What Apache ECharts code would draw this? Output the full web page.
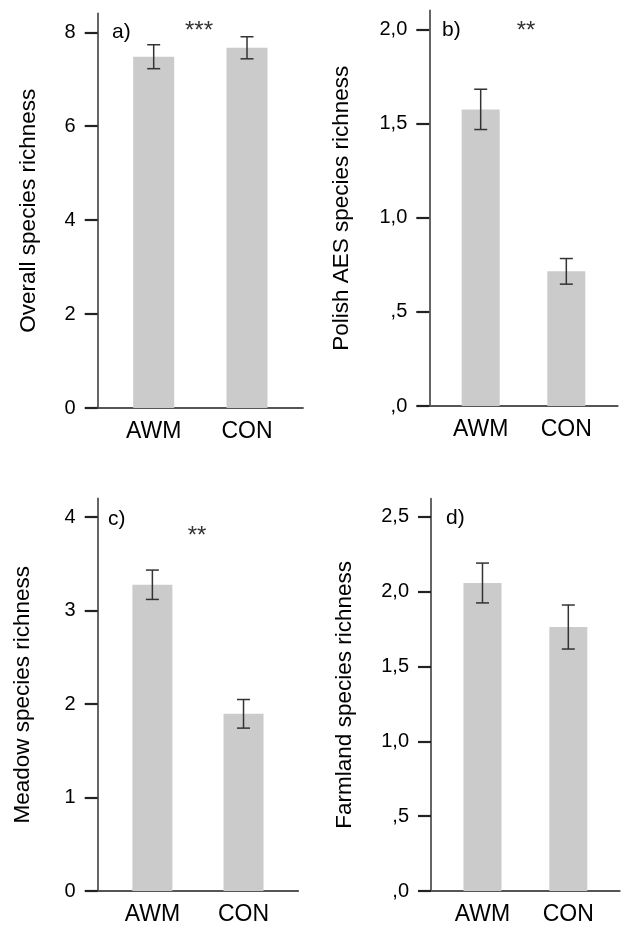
<!DOCTYPE html>
<html>
<head>
<meta charset="utf-8">
<script src="https://cdn.jsdelivr.net/npm/echarts@6/dist/echarts.min.js"></script>
<style>
html,body{margin:0;padding:0;background:#fff;}
#chart{width:622px;height:926px;}
</style>
</head>
<body>
<div id="chart"></div>
<script>
// ---- data ----
const categories = ['AWM', 'CON'];
const categoryPos = [1, 2];

const overallMean = [7.48, 7.67];
const overallErr = [0.255, 0.235];
const aesMean = [1.575, 0.715];
const aesErr = [0.107, 0.068];
const meadowMean = [3.277, 1.896];
const meadowErr = [0.157, 0.153];
const farmlandMean = [2.057, 1.763];
const farmlandErr = [0.133, 0.147];

const ticksA = [0, 2, 4, 6, 8];
const tickLabelsA = ['0', '2', '4', '6', '8'];
const ticksB = [0, 0.5, 1, 1.5, 2];
const tickLabelsB = [',0', ',5', '1,0', '1,5', '2,0'];
const ticksC = [0, 1, 2, 3, 4];
const tickLabelsC = ['0', '1', '2', '3', '4'];
const ticksD = [0, 0.5, 1, 1.5, 2, 2.5];
const tickLabelsD = [',0', ',5', '1,0', '1,5', '2,0', '2,5'];

const titles = ['Overall species richness', 'Polish AES species richness', 'Meadow species richness', 'Farmland species richness'];
const panelLetters = ['a)', 'b)', 'c)', 'd)'];
const signif = ['***', '**', '**', ''];

// ---- layout ----
const FONT = 'Liberation Sans, Arial, sans-serif';
const AXIS = '#555';
const panels = [
  {mean: overallMean, err: overallErr, ticks: ticksA, labels: tickLabelsA, max: 8.4,
   grid: {left: 97.7, top: 13.5, width: 205.3, height: 394.5}, barWidth: 41, nameGap: 57,
   letter: [112, 32], star: [199, 31]},
  {mean: aesMean, err: aesErr, ticks: ticksB, labels: tickLabelsB, max: 2.1,
   grid: {left: 429.3, top: 10.5, width: 188.4, height: 395.5}, barWidth: 38, nameGap: 76,
   letter: [442, 30], star: [526, 31]},
  {mean: meadowMean, err: meadowErr, ticks: ticksC, labels: tickLabelsC, max: 4.2,
   grid: {left: 97.7, top: 498.5, width: 200.5, height: 393.5}, barWidth: 40, nameGap: 63,
   letter: [108, 519], star: [197, 536]},
  {mean: farmlandMean, err: farmlandErr, ticks: ticksD, labels: tickLabelsD, max: 2.62,
   grid: {left: 431, top: 498.7, width: 188.8, height: 393.3}, barWidth: 38, nameGap: 75,
   letter: [446, 518], star: [0, 0]}
];

const grids = [], xAxes = [], yAxes = [], series = [], graphics = [];
panels.forEach((p, i) => {
  grids.push(Object.assign({containLabel: false}, p.grid));
  xAxes.push({
    type: 'value', gridIndex: i, min: 0.4, max: 2.6,
    axisLine: {show: true, onZero: true, lineStyle: {color: AXIS, width: 1.8}},
    axisTick: {show: false},
    splitLine: {show: false},
    axisLabel: {
      customValues: categoryPos,
      formatter: v => categories[categoryPos.indexOf(Math.round(v))] || '',
      color: '#000', fontFamily: FONT, fontSize: 23, margin: 12
    }
  });
  yAxes.push({
    type: 'value', gridIndex: i, min: 0, max: p.max,
    name: titles[i], nameLocation: 'middle', nameGap: p.nameGap,
    nameTextStyle: {fontFamily: FONT, fontSize: 22.5, color: '#000'},
    axisLine: {show: true, lineStyle: {color: AXIS, width: 1.8}},
    axisTick: {show: true, customValues: p.ticks, length: 13, lineStyle: {color: '#222', width: 2.2}},
    splitLine: {show: false},
    axisLabel: {
      customValues: p.ticks,
      formatter: v => p.labels[p.ticks.indexOf(v)],
      color: '#000', fontFamily: FONT, fontSize: 20, margin: 22
    }
  });
  series.push({
    type: 'bar', xAxisIndex: i, yAxisIndex: i, barWidth: p.barWidth,
    itemStyle: {color: '#cbcbcb'},
    data: categoryPos.map((x, k) => [x, p.mean[k]]),
    z: 2, silent: true
  });
  series.push({
    type: 'custom', xAxisIndex: i, yAxisIndex: i, coordinateSystem: 'cartesian2d',
    encode: {x: 0, y: [1, 2]},
    data: categoryPos.map((x, k) => [x, p.mean[k] - p.err[k], p.mean[k] + p.err[k]]),
    z: 5, silent: true,
    renderItem: (params, api) => {
      const x = api.value(0);
      const lo = api.coord([x, api.value(1)]);
      const hi = api.coord([x, api.value(2)]);
      const h = 6.5;
      const st = {stroke: '#333', lineWidth: 1.5};
      return {type: 'group', children: [
        {type: 'line', shape: {x1: hi[0], y1: hi[1], x2: lo[0], y2: lo[1]}, style: st},
        {type: 'line', shape: {x1: hi[0] - h, y1: hi[1], x2: hi[0] + h, y2: hi[1]}, style: st},
        {type: 'line', shape: {x1: lo[0] - h, y1: lo[1], x2: lo[0] + h, y2: lo[1]}, style: st}
      ]};
    }
  });
  graphics.push({type: 'text', x: p.letter[0], y: p.letter[1],
    style: {text: panelLetters[i], fontFamily: FONT, fontSize: 21, fill: '#000', align: 'left', verticalAlign: 'middle'}});
  if (signif[i]) {
    graphics.push({type: 'text', x: p.star[0], y: p.star[1],
      style: {text: signif[i], fontFamily: FONT, fontSize: 24, fill: '#333', align: 'center', verticalAlign: 'middle'}});
  }
});

const chart = echarts.init(document.getElementById('chart'), null, {renderer: 'canvas'});
chart.setOption({
  animation: false,
  backgroundColor: '#fff',
  grid: grids,
  xAxis: xAxes,
  yAxis: yAxes,
  series: series,
  graphic: graphics
});
</script>
</body>
</html>
